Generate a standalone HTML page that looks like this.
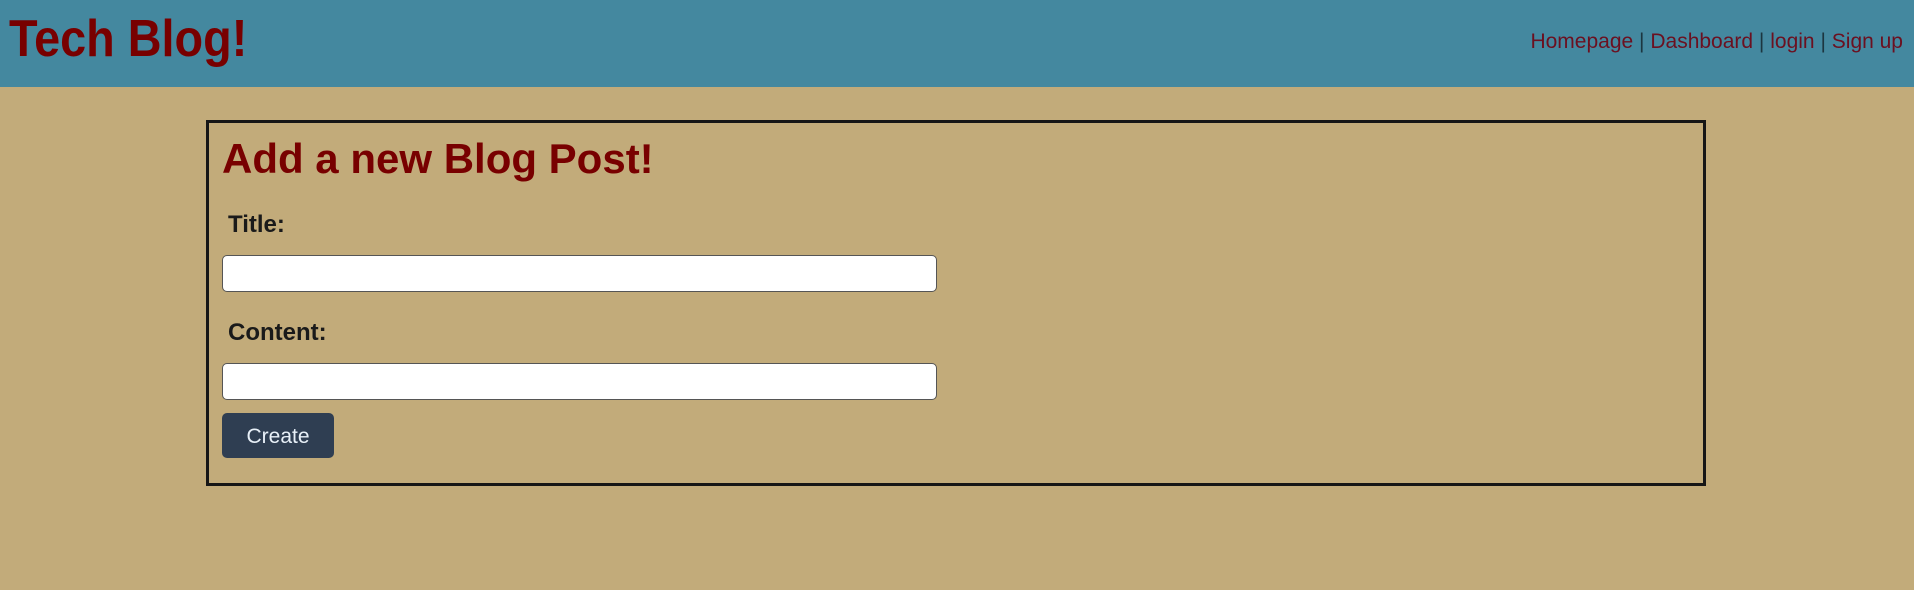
<!DOCTYPE html>
<html><head><meta charset="utf-8"><style>
*{margin:0;padding:0;box-sizing:border-box}
body{width:1914px;height:590px;background:#c2ab7a;font-family:"Liberation Sans",sans-serif;position:relative;overflow:hidden}
.header{position:absolute;left:0;top:0;width:1914px;height:87px;background:#44889f}
.logo{position:absolute;left:9px;top:9px;font-size:52px;font-weight:bold;color:#780000;transform:scaleX(0.9);transform-origin:left top;line-height:60px;white-space:nowrap}
.nav{position:absolute;right:11px;top:30px;font-size:21px;color:#6b1020;line-height:24px;white-space:nowrap}
.nav span.sep{color:#1c3640}
.nav a{color:#6b1020;text-decoration:none}
.box{position:absolute;left:206px;top:120px;width:1500px;height:366px;border:3px solid #161616}
h1{position:absolute;left:222px;top:134px;font-size:42px;font-weight:bold;color:#780000;line-height:50px;white-space:nowrap}
.lbl{position:absolute;left:228px;font-size:24px;font-weight:bold;color:#1a1a1a;line-height:28px}
.inp{position:absolute;left:222px;width:715px;height:37px;background:#fff;border:1px solid #555;border-radius:5px}
.btn{position:absolute;left:222px;top:413px;width:112px;height:45px;background:#2f3e52;border-radius:5px;color:#e8f0f8;font-size:21px;line-height:47px;text-align:center}
</style></head><body>
<div class="header">
<div class="logo">Tech Blog!</div>
<div class="nav"><a>Homepage</a> <span class="sep">|</span> <a>Dashboard</a> <span class="sep">|</span> <a>login</a> <span class="sep">|</span> <a>Sign up</a></div>
</div>
<div class="box"></div>
<h1>Add a new Blog Post!</h1>
<div class="lbl" style="top:211px">Title:</div>
<div class="inp" style="top:255px"></div>
<div class="lbl" style="top:319px">Content:</div>
<div class="inp" style="top:363px"></div>
<div class="btn">Create</div>
</body></html>
